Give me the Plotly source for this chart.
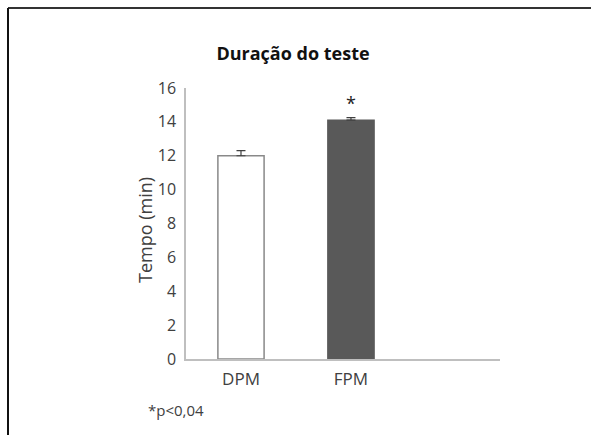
import plotly.graph_objects as go

# Test duration per group
categories = ["DPM", "FPM"]
duration_min = [12.0, 14.1]
duration_err = [0.3, 0.15]
bar_fill = ["#ffffff", "#595959"]
bar_line = ["#898989", "#595959"]
y_ticks = [0, 2, 4, 6, 8, 10, 12, 14, 16]
significant = ["", "*"]

FONT = "Open Sans"
TEXT = "#404040"

fig = go.Figure()
fig.add_trace(go.Bar(
    x=categories,
    y=duration_min,
    width=0.42,
    marker=dict(color=bar_fill, line=dict(color=bar_line, width=1.5)),
    # upper half of the error bar only
    error_y=dict(type="data", array=duration_err, symmetric=False,
                 arrayminus=[0] * len(duration_err), visible=True,
                 color="#404040", thickness=1.2, width=4.5),
    showlegend=False,
    hoverinfo="skip",
))

# significance marker above the error bar
for cat, val, err, mark in zip(categories, duration_min, duration_err, significant):
    if mark:
        fig.add_annotation(x=cat, y=val + err, text=mark, showarrow=False,
                           yshift=15, font=dict(family=FONT, size=18, color="#222222"))

fig.update_layout(
    width=591, height=435,
    margin=dict(l=186, r=91, t=88, b=76),
    paper_bgcolor="white", plot_bgcolor="white",
    font=dict(family=FONT, color=TEXT, size=15),
    title=dict(text="<b>Duração do teste</b>", x=293 / 591, xanchor="center",
               y=1 - 54 / 435, yanchor="middle",
               font=dict(family=FONT, size=18, color="#111111")),
    xaxis=dict(range=[-0.5, 2.355], showline=True, linecolor="#bfbfbf", linewidth=1.5,
               showgrid=False, zeroline=False, ticks="", ticklabelstandoff=4,
               tickfont=dict(family=FONT, size=17, color=TEXT)),
    yaxis=dict(range=[0, 16], tickvals=y_ticks, showline=True, linecolor="#bfbfbf",
               linewidth=1.5, showgrid=False, zeroline=False, ticks="",
               ticklabelstandoff=5,
               tickfont=dict(family=FONT, size=16, color=TEXT)),
)

# axis title
fig.add_annotation(xref="paper", yref="paper", x=(131 - 186) / 314, y=(359 - 230) / 271,
                   text="Tempo (min)", textangle=-90, showarrow=False,
                   font=dict(family=FONT, size=18, color=TEXT))

# footnote
fig.add_annotation(xref="paper", yref="paper", x=(146 - 186) / 314, y=(359 - 410) / 271,
                   xanchor="left", yanchor="middle", text="*p<0,04", showarrow=False,
                   font=dict(family=FONT, size=15, color=TEXT))

# frame along the top and left edges
x_left = (8 - 186) / 314
x_right = (591 - 186) / 314
y_top = (359 - 8) / 271
y_bottom = (359 - 435) / 271
fig.add_shape(type="line", xref="paper", yref="paper", x0=x_left, x1=x_right,
              y0=y_top, y1=y_top, line=dict(color="#333333", width=2))
fig.add_shape(type="line", xref="paper", yref="paper", x0=x_left, x1=x_left,
              y0=y_top, y1=y_bottom, line=dict(color="#111111", width=2))

fig.write_html("out.html")
